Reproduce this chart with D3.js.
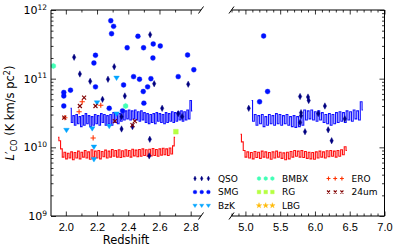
<!DOCTYPE html>
<html>
<head>
<meta charset="utf-8">
<script src="https://cdn.jsdelivr.net/npm/d3@7"></script>
<style>
  body { margin: 0; background: #fff; }
  svg { font-family: "DejaVu Sans", sans-serif; }
</style>
</head>
<body>
<div id="chart"></div>
<script>
// Layout
const WIDTH = 399, HEIGHT = 251;
const TOP = 10, BOTTOM = 216;
const PANELS = [
    { name: 'left', x0: 51, x1: 201, domain: [1.905, 2.866], major: [2.0, 2.2, 2.4, 2.6, 2.8], minorStep: 0.1 },
    { name: 'right', x0: 231.5, x1: 384.5, domain: [4.8, 7.0], major: [5.0, 5.5, 6.0, 6.5, 7.0], minorStep: 0.1 }
];

// Data: [redshift, L'CO]
const QSO = [
    [2.053, 2.05e11], [2.09, 1.17e11], [2.156, 9.15e10], [2.27, 9.8e10], [2.31, 1.49e11],
    [2.235, 5.0e10], [2.378, 5.6e10], [2.54, 4.37e11], [2.566, 8.45e10], [2.784, 8.3e10],
    [2.617, 3.7e10], [2.72, 3.1e10], [2.745, 2.8e10], [2.357, 2.8e10], [2.357, 1.85e10],
    [2.427, 2.0e10], [2.538, 1.31e10], [2.534, 7.5e9],
    [5.048, 3.7e10], [5.786, 5.5e10], [5.9, 5.4e10], [5.91, 4.8e10], [6.143, 4.0e10],
    [5.8, 3.2e10], [5.8, 2.9e10], [5.786, 2.3e10], [6.047, 3.1e10], [6.43, 2.6e10],
    [6.19, 1.8e10], [5.857, 1.69e10], [6.24, 1.25e10]
];
const SMG = [
    [2.288, 6.98e11], [2.306, 5.78e11], [2.293, 4.52e11], [2.19, 2.19e11], [2.18, 1.69e11],
    [2.462, 4.14e11], [2.393, 2.82e11], [2.498, 2.82e11], [2.56, 3.2e11], [2.605, 2.99e11],
    [2.558, 2.0e11], [2.78, 2.21e11], [2.82, 1.35e11], [2.434, 1.07e11], [2.472, 9.8e10],
    [2.545, 1.0e11], [2.72, 1.07e11], [2.37, 8.1e10], [2.19, 7.6e10], [2.03, 6.8e10],
    [1.987, 6.3e10], [1.987, 5.6e10], [1.987, 4.0e10], [2.278, 3.7e10], [2.496, 6.5e10],
    [2.524, 7.6e10], [2.5, 4.4e10], [2.363, 3.4e10],
    [5.262, 4.18e11], [5.319, 6.5e10], [5.204, 4.6e10]
];
const BZK = [
    [2.325, 1.03e11], [2.2, 4.5e10], [2.325, 3.1e10], [2.004, 1.79e10], [2.169, 1.89e10],
    [2.278, 2.04e10], [2.18, 1.02e10], [2.18, 6.7e9]
];
const BMBX = [[1.92, 1.53e11], [2.383, 4.0e10]];
const RG = [[2.705, 1.69e10]];
const LBG = [];
const ERO = [[2.105, 4.6e10], [2.085, 3.3e10], [2.224, 4.1e10], [1.994, 2.7e10], [2.175, 1.37e10]];
const UM24 = [
    [2.117, 5.3e10], [2.09, 4.0e10], [2.19, 4.0e10], [1.99, 2.7e10], [2.314, 2.4e10],
    [2.442, 2.4e10], [2.427, 2.1e10]
];

// Sensitivity curves, values in units of 1e10, sampled evenly between the z limits
const BLUE_LEFT_Z = [2.03, 2.81];
const BLUE_LEFT = [3.7, 2.3, 2.9, 2.1, 3.0, 2.2, 2.8, 2.0, 2.9, 2.1, 3.1, 2.2, 2.9, 2.0, 2.8, 2.1,
    3.0, 2.2, 2.9, 2.1, 3.1, 2.3, 3.0, 2.1, 2.9, 2.2, 3.0, 2.1, 3.2, 2.3, 3.0, 2.2, 3.1, 2.4,
    3.3, 2.5, 3.4, 2.6, 3.5, 2.5, 3.4, 2.6, 3.5, 2.5, 3.3, 2.4, 3.4, 2.5, 3.2, 2.3, 3.1, 2.2,
    3.0, 2.3, 3.1, 2.2, 3.2, 2.4, 3.1, 2.3, 3.0, 2.2, 3.2, 2.3, 3.1, 2.4, 3.3, 2.3, 3.2, 2.4,
    3.3, 2.5, 3.4, 2.4, 3.3, 2.5, 3.5, 2.6, 4.8, 3.4];
const RED_LEFT_Z = [1.95, 2.70];
const RED_LEFT = [1.4, 1.25, 0.95, 0.72, 0.85, 0.68, 0.82, 0.7, 0.86, 0.66, 0.84, 0.7, 0.88, 0.68,
    0.85, 0.72, 0.9, 0.7, 0.86, 0.67, 0.92, 0.72, 0.88, 0.7, 0.9, 0.68, 0.87, 0.73, 0.91, 0.7,
    0.88, 0.72, 0.93, 0.74, 0.9, 0.72, 0.92, 0.71, 0.89, 0.73, 0.92, 0.74, 0.9, 0.72, 0.94, 0.75,
    0.91, 0.73, 0.93, 0.74, 0.95, 0.76, 0.92, 0.74, 0.94, 0.75, 0.96, 0.76, 0.93, 0.74, 0.95,
    0.77, 0.97, 0.78, 0.95, 0.76, 0.98, 0.8, 1.05, 1.4];
const BLUE_RIGHT_Z = [5.09, 6.69];
const BLUE_RIGHT = [4.8, 2.4, 3.0, 2.1, 2.9, 2.2, 3.0, 2.0, 2.8, 2.1, 3.0, 2.2, 2.9, 2.1, 3.1, 2.2,
    3.0, 2.1, 2.9, 2.2, 3.0, 2.1, 2.8, 2.0, 2.9, 1.95, 2.8, 2.0, 2.9, 2.1, 3.5, 2.5, 3.4, 2.6,
    3.5, 2.5, 3.3, 2.4, 3.4, 2.5, 3.2, 2.3, 3.0, 2.2, 3.1, 2.1, 3.0, 2.2, 3.2, 2.3, 3.3, 2.4,
    3.2, 2.3, 3.4, 2.5, 3.3, 2.4, 3.5, 2.6, 3.4, 2.5, 4.6, 3.5];
const RED_RIGHT_Z = [4.93, 6.46];
const RED_RIGHT = [1.55, 1.2, 0.9, 0.72, 0.86, 0.7, 0.84, 0.68, 0.87, 0.71, 0.85, 0.69, 0.88, 0.72,
    0.86, 0.7, 0.84, 0.67, 0.86, 0.7, 0.88, 0.72, 0.85, 0.69, 0.83, 0.66, 0.85, 0.68, 0.87, 0.72,
    0.9, 0.74, 0.88, 0.72, 0.9, 0.71, 0.87, 0.69, 0.85, 0.68, 0.84, 0.67, 0.86, 0.7, 0.88, 0.72,
    0.86, 0.7, 0.89, 0.73, 0.9, 0.74, 0.88, 0.72, 0.9, 0.74, 0.92, 0.78, 1.02, 0.9];

const CATEGORIES = [
    { label: 'QSO', data: QSO, color: '#000080', shape: 'diamond' },
    { label: 'SMG', data: SMG, color: '#0012ff', shape: 'circle' },
    { label: 'BzK', data: BZK, color: '#00a4ff', shape: 'triDown' },
    { label: 'BMBX', data: BMBX, color: '#41ffb6', shape: 'hex' },
    { label: 'RG', data: RG, color: '#b6ff41', shape: 'square' },
    { label: 'LBG', data: LBG, color: '#ffb900', shape: 'star' },
    { label: 'ERO', data: ERO, color: '#ff3200', shape: 'plus' },
    { label: '24um', data: UM24, color: '#800000', shape: 'cross' }
];

// Marker paths
function markerPath(shape, k) {
    const s = k;
    switch (shape) {
        case 'diamond': return `M0,${-3.2 * s}L${1.7 * s},0L0,${3.2 * s}L${-1.7 * s},0Z`;
        case 'circle': return d3.symbol(d3.symbolCircle, 19 * s * s)();
        case 'triDown': return `M${-2.8 * s},${-1.7 * s}L${2.8 * s},${-1.7 * s}L0,${2.8 * s}Z`;
        case 'hex': {
            const r = 2.7 * s;
            return d3.range(6).map((i, j) => {
                const a = Math.PI / 3 * i + Math.PI / 6;
                return (j ? 'L' : 'M') + (r * Math.cos(a)).toFixed(2) + ',' + (r * Math.sin(a)).toFixed(2);
            }).join('') + 'Z';
        }
        case 'square': return `M${-2.4 * s},${-2.4 * s}h${4.8 * s}v${4.8 * s}h${-4.8 * s}Z`;
        case 'star': return d3.symbol(d3.symbolStar, 16 * s * s)();
        case 'plus': return `M${-2.6 * s},0H${2.6 * s}M0,${-2.6 * s}V${2.6 * s}`;
        case 'cross': return `M${-2 * s},${-2 * s}L${2 * s},${2 * s}M${-2 * s},${2 * s}L${2 * s},${-2 * s}`;
    }
}
const STROKED = ['plus', 'cross'];

function addMarker(sel, cat, k) {
    const p = sel.append('path').attr('d', markerPath(cat.shape, k));
    if (STROKED.includes(cat.shape)) {
        p.attr('fill', 'none').attr('stroke', cat.color).attr('stroke-width', 1.1);
    } else {
        p.attr('fill', cat.color).attr('stroke', cat.color).attr('stroke-width', 0.4);
    }
    return p;
}

// SVG
const svg = d3.select('#chart')
    .append('svg')
    .attr('width', WIDTH)
    .attr('height', HEIGHT);

const y = d3.scaleLog().domain([1e9, 1e12]).range([BOTTOM, TOP]);
const yMajor = [1e9, 1e10, 1e11, 1e12];
const yMinor = [];
[1e9, 1e10, 1e11].forEach(b => d3.range(2, 10).forEach(m => yMinor.push(b * m)));

PANELS.forEach(p => {
    p.x = d3.scaleLinear().domain(p.domain).range([p.x0, p.x1]);
    const g = svg.append('g');

    const minor = d3.range(Math.ceil(p.domain[0] / p.minorStep), Math.floor(p.domain[1] / p.minorStep + 1e-6) + 1)
        .map(i => +(i * p.minorStep).toFixed(2))
        .filter(v => !p.major.some(m => Math.abs(m - v) < 1e-6));

    // sensitivity curves
    const line = d3.line().x(d => p.x(d[0])).y(d => y(d[1])).curve(d3.curveStep);
    const curves = p.name === 'left'
        ? [[BLUE_LEFT_Z, BLUE_LEFT, '#1010ff'], [RED_LEFT_Z, RED_LEFT, '#ff1010']]
        : [[BLUE_RIGHT_Z, BLUE_RIGHT, '#1010ff'], [RED_RIGHT_Z, RED_RIGHT, '#ff1010']];
    curves.forEach(([zr, vals, col]) => {
        const pts = vals.map((v, i) => [zr[0] + i * (zr[1] - zr[0]) / (vals.length - 1), v * 1e10]);
        g.append('path')
            .attr('d', line(pts))
            .attr('fill', 'none')
            .attr('stroke', col)
            .attr('stroke-width', 1.1);
    });

    // points
    CATEGORIES.forEach(cat => {
        cat.data
            .filter(d => d[0] >= p.domain[0] && d[0] <= p.domain[1])
            .forEach(d => {
                addMarker(g, cat, 1).attr('transform', `translate(${p.x(d[0])},${y(d[1])})`);
            });
    });

    // x ticks (bottom and top, inward)
    const axBottom = g.append('g').attr('transform', `translate(0,${BOTTOM})`)
        .call(d3.axisBottom(p.x).tickValues(p.major).tickSizeInner(-4.5).tickSizeOuter(0)
            .tickPadding(7).tickFormat(d3.format('.1f')));
    axBottom.selectAll('text').attr('font-size', 11).attr('fill', '#000');
    g.append('g').attr('transform', `translate(0,${BOTTOM})`)
        .call(d3.axisBottom(p.x).tickValues(minor).tickSizeInner(-2.5).tickSizeOuter(0).tickFormat(''));
    g.append('g').attr('transform', `translate(0,${TOP})`)
        .call(d3.axisTop(p.x).tickValues(p.major).tickSizeInner(-4.5).tickSizeOuter(0).tickFormat(''));
    g.append('g').attr('transform', `translate(0,${TOP})`)
        .call(d3.axisTop(p.x).tickValues(minor).tickSizeInner(-2.5).tickSizeOuter(0).tickFormat(''));

    // y ticks
    if (p.name === 'left') {
        g.append('g').attr('transform', `translate(${p.x0},0)`)
            .call(d3.axisLeft(y).tickValues(yMajor).tickSizeInner(-5).tickSizeOuter(0).tickFormat(''));
        g.append('g').attr('transform', `translate(${p.x0},0)`)
            .call(d3.axisLeft(y).tickValues(yMinor).tickSizeInner(-2.5).tickSizeOuter(0).tickFormat(''));
    } else {
        g.append('g').attr('transform', `translate(${p.x1},0)`)
            .call(d3.axisRight(y).tickValues(yMajor).tickSizeInner(-5).tickSizeOuter(0).tickFormat(''));
        g.append('g').attr('transform', `translate(${p.x1},0)`)
            .call(d3.axisRight(y).tickValues(yMinor).tickSizeInner(-2.5).tickSizeOuter(0).tickFormat(''));
    }
    g.selectAll('.domain').remove();
    g.selectAll('.tick line').attr('stroke', '#000').attr('stroke-width', 0.8);

    // spines
    const spine = (x1, y1, x2, y2) => g.append('line')
        .attr('x1', x1).attr('y1', y1).attr('x2', x2).attr('y2', y2)
        .attr('stroke', '#000').attr('stroke-width', 1);
    spine(p.x0, TOP, p.x1, TOP);
    spine(p.x0, BOTTOM, p.x1, BOTTOM);
    if (p.name === 'left') spine(p.x0, TOP, p.x0, BOTTOM);
    else spine(p.x1, TOP, p.x1, BOTTOM);

    // break marks
    const bx = p.name === 'left' ? p.x1 : p.x0;
    [TOP, BOTTOM].forEach(by => {
        g.append('line')
            .attr('x1', bx - 2.5).attr('y1', by + 3.5)
            .attr('x2', bx + 2.5).attr('y2', by - 3.5)
            .attr('stroke', '#000').attr('stroke-width', 1);
    });
});

// y tick labels 10^n
yMajor.forEach(v => {
    const t = svg.append('text')
        .attr('x', 47).attr('y', y(v) + 4)
        .attr('text-anchor', 'end')
        .attr('font-size', 11);
    t.append('tspan').text('10');
    t.append('tspan').attr('font-size', 7.5).attr('dy', -4.5).text(Math.round(Math.log10(v)));
});

// axis titles
svg.append('text')
    .attr('x', 126).attr('y', 244)
    .attr('text-anchor', 'middle')
    .attr('font-size', 11.5)
    .text('Redshift');

const yl = svg.append('text')
    .attr('transform', 'translate(14,113) rotate(-90)')
    .attr('text-anchor', 'middle')
    .attr('font-size', 11.5);
yl.append('tspan').attr('font-style', 'italic').text('L');
yl.append('tspan').text('′');
yl.append('tspan').attr('font-size', 8).attr('dy', 3).text('CO');
yl.append('tspan').attr('dy', -3).text(' (K km/s pc');
yl.append('tspan').attr('font-size', 8).attr('dy', -4).text('2');
yl.append('tspan').attr('dy', 4).text(')');

// legend
const LEGEND_COLS = [195, 259, 328.5];
const LEGEND_ROWS = [178.5, 192, 205.5];
CATEGORIES.forEach((cat, i) => {
    const cx = LEGEND_COLS[Math.floor(i / 3)];
    const cy = LEGEND_ROWS[i % 3];
    [0, 6.7, 13.4].forEach(dx => {
        addMarker(svg, cat, 0.75).attr('transform', `translate(${cx + dx},${cy})`);
    });
    svg.append('text')
        .attr('x', cx + 23).attr('y', cy + 3.3)
        .attr('font-size', 9)
        .text(cat.label);
});
</script>
</body>
</html>
